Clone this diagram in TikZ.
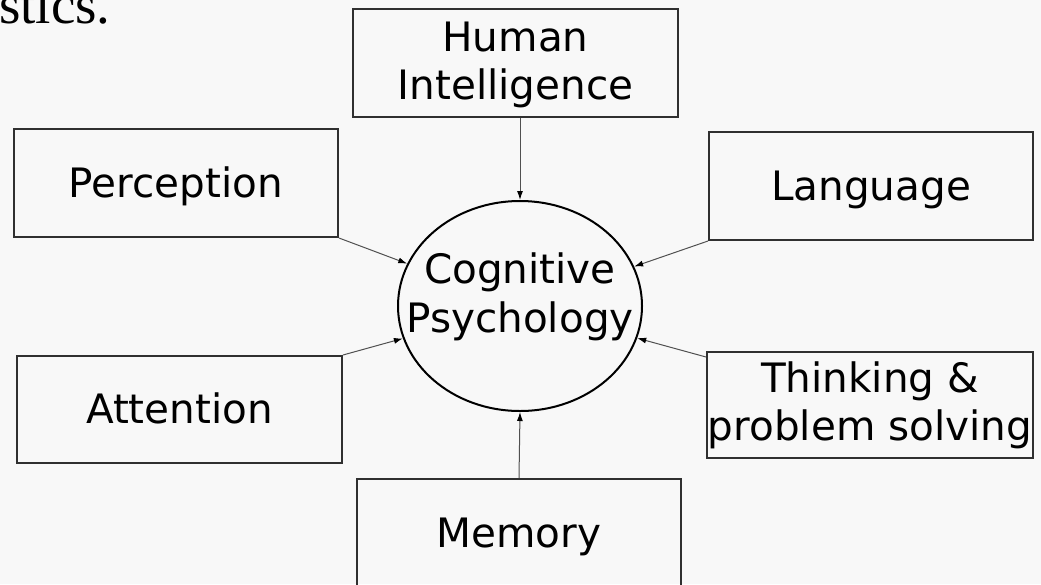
\documentclass[tikz,border=0pt]{standalone}
\usepackage{fontspec}
\setmainfont{DejaVu Sans}
\newfontfamily\serifcut{Liberation Serif}
\usetikzlibrary{shapes.geometric,arrows.meta}
\definecolor{bg}{HTML}{F8F8F8}
\definecolor{edge}{HTML}{303030}
\definecolor{conn}{HTML}{505050}
\tikzset{
  topic/.style={draw=edge,line width=2pt,inner sep=0pt,align=center,
    font=\fontsize{40.5}{48}\selectfont},
  oneline/.style={topic,text height=31pt,text depth=3pt},
  feed/.style={draw=conn,line width=1pt,-{Latex[length=9pt,width=6pt,color=black]}}
}
\begin{document}
\begin{tikzpicture}[x=1pt,y=-1pt]
\useasboundingbox (0,0) rectangle (1041,584);
\fill[bg] (0,0) rectangle (1041,584);
\node[anchor=base west,inner sep=0pt,font=\serifcut\fontsize{55}{60}\selectfont] (cut) at (-1,23) {stics.};
\node[topic,minimum width=325pt,minimum height=108pt,text depth=4pt] (hum) at (515.5,63) {Human\\Intelligence};
\node[oneline,minimum width=324pt,minimum height=108pt] (per) at (176,183) {Perception};
\node[oneline,minimum width=325pt,minimum height=107pt] (att) at (179.5,409.5) {Attention};
\node[oneline,minimum width=324pt,minimum height=108pt] (lan) at (871,186) {Language};
\node[topic,minimum width=326pt,minimum height=106pt] (thi) at (870,405) {Thinking \&\\problem solving};
\node[oneline,minimum width=324pt,minimum height=108pt] (mem) at (519,533) {Memory};
\node[ellipse,draw=black,line width=2pt,inner sep=0pt,minimum width=244pt,minimum height=210pt,
  align=center,font=\fontsize{40.5}{49}\selectfont,text depth=26pt]
  (cog) at (520,306) {\makebox[0pt]{Cognitive}\\\makebox[0pt]{Psychology}};
\draw[feed] (hum.south -| cog.north) -- (cog.north);
\draw[feed] (per.south east) -- (cog);
\draw[feed] (att.north east) -- (cog);
\draw[feed] (lan.south west) -- (cog);
\draw[feed] ([yshift=-6pt]thi.north west) -- (cog);
\draw[feed] (mem.north) -- (cog.south);
\end{tikzpicture}
\end{document}
